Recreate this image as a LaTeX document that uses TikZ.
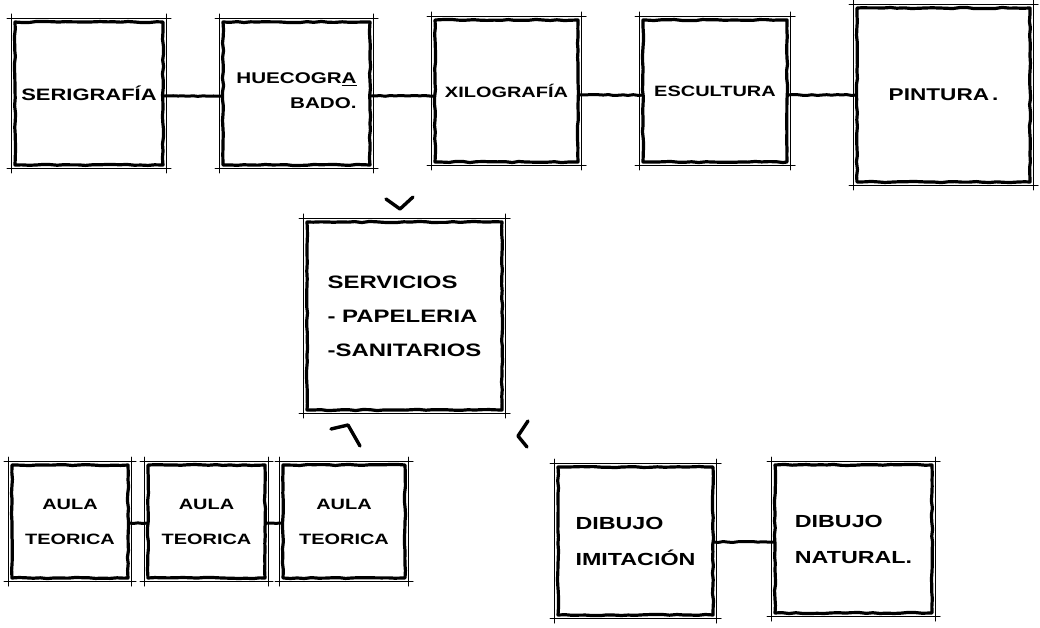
\documentclass[tikz,border=0pt]{standalone}
\usepackage{fontspec}
\setmainfont{Liberation Sans}[FakeStretch=1.33]
\usetikzlibrary{decorations.pathmorphing}
\newcommand{\letra}[2]{\fontsize{#1}{#2}\selectfont\bfseries}
\tikzset{
  sala/.style={draw, line width=3.2pt, line join=round, decorate,
               decoration={random steps, segment length=7pt, amplitude=0.6pt},
               inner sep=0pt, outer sep=0pt, align=center,
               font=\letra{15}{35}, minimum width=#1},
  sala/.default=140pt,
  trazo/.style={line width=1pt, line cap=round},
  enlace/.style={line width=3pt, decorate,
                 decoration={random steps, segment length=5pt, amplitude=0.5pt}},
  marca/.style={line width=3.4pt, line cap=round, line join=round},
}

\begin{document}
\begin{tikzpicture}[x=1pt,y=-1pt]
\pgfmathsetseed{7}
\useasboundingbox[fill=white] (0,0) rectangle (1040,628);
% talleres
\node[sala=148pt, minimum height=143pt, font=\letra{16.5}{20}] (seri) at (89,93.5) {SERIGRAFÍA};
\node[sala=147pt, minimum height=143pt, align=right, font=\letra{15.5}{25}, text height=31pt] (hueco) at (296.5,93.5) {HUECOGR\underline{A}\\BADO.};
\node[sala=143pt, minimum height=142pt] (xilo) at (506.5,91) {XILOGRAFÍA};
\node[sala=144pt, minimum height=142pt] (escu) at (715,91) {ESCULTURA};
\node[sala=173pt, minimum height=174pt, font=\letra{17}{20}] (pint) at (943.5,95) {PINTURA\,.};
% servicios
\node[sala=195pt, minimum height=188pt, align=left, font=\letra{18}{34}] (serv) at (404.5,316) {SERVICIOS\\- PAPELERIA\\-SANITARIOS};
% aulas
\node[sala=116pt, minimum height=113pt] (aulaA) at (70,521.5) {AULA\\TEORICA};
\node[sala=117pt, minimum height=113pt] (aulaB) at (206.5,521.5) {AULA\\TEORICA};
\node[sala=122pt, minimum height=113pt] (aulaC) at (344,521.5) {AULA\\TEORICA};
% dibujo
\node[sala=155pt, minimum height=148pt, align=left, font=\letra{17.5}{36}] (dimi) at (635.5,541) {DIBUJO\\IMITACIÓN};
\node[sala=157pt, minimum height=148pt, align=left, font=\letra{17.5}{36}] (dnat) at (853.5,539) {DIBUJO\\NATURAL.};
% lineas finas de encuadre
\foreach \n in {seri,hueco,xilo,escu,pint,serv,aulaA,aulaB,aulaC,dimi,dnat}{
  \draw[trazo] ([shift={(-8pt,3.5pt)}]\n.north west) -- ([shift={(8pt,3.5pt)}]\n.north east);
  \draw[trazo] ([shift={(-8pt,-3.5pt)}]\n.south west) -- ([shift={(8pt,-3.5pt)}]\n.south east);
  \draw[trazo] ([shift={(-3.5pt,8pt)}]\n.north west) -- ([shift={(-3.5pt,-8pt)}]\n.south west);
  \draw[trazo] ([shift={(3.5pt,8pt)}]\n.north east) -- ([shift={(3.5pt,-8pt)}]\n.south east);
}
% enlaces
\draw[enlace] ([yshift=-2.5pt]seri.east) -- ([yshift=-2.5pt]hueco.west);
\draw[enlace] ([yshift=-2.5pt]hueco.east) -- ([yshift=-5pt]xilo.west);
\draw[enlace] ([yshift=-4pt]xilo.east) -- ([yshift=-4pt]escu.west);
\draw[enlace] ([yshift=-4pt]escu.east) -- (pint.west);
\draw[enlace] ([yshift=-1.5pt]aulaA.east) -- ([yshift=-1.5pt]aulaB.west);
\draw[enlace] ([yshift=-1.5pt]aulaB.east) -- ([yshift=-1.5pt]aulaC.west);
\draw[enlace] ([yshift=-1pt]dimi.east) -- ([yshift=-3pt]dnat.west);
% marcas
\draw[marca] (386,199) -- (400,209) -- (413,197);
\draw[marca] (331,429) -- (348,425) -- (360,446);
\draw[marca] (528,421) -- (518,436) -- (527,447);
\end{tikzpicture}
\end{document}
